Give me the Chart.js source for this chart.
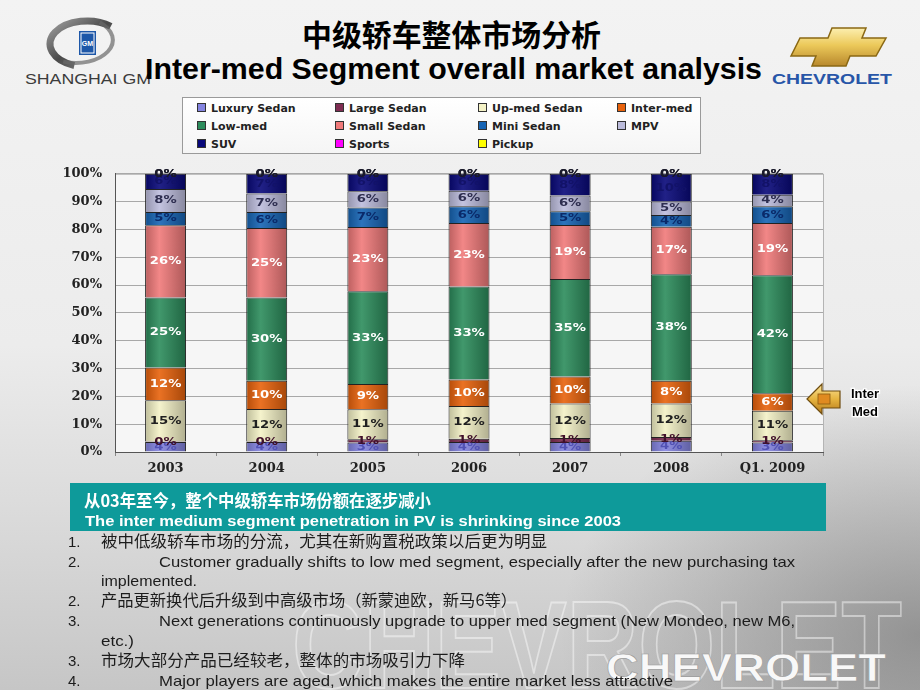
<!DOCTYPE html>
<html>
<head>
<meta charset="utf-8">
<title>Inter-med Segment overall market analysis</title>
<script src="https://cdn.jsdelivr.net/npm/chart.js@4.4.1/dist/chart.umd.min.js"></script>
<style>
  html, body { margin: 0; padding: 0; }
  body {
    width: 920px; height: 690px; overflow: hidden; position: relative;
    font-family: "Liberation Sans", Arial, sans-serif;
    background:
      radial-gradient(ellipse 360px 250px at 100% 92%, rgba(100,100,100,0.55), rgba(100,100,100,0) 100%),
      linear-gradient(180deg, #f3f3f3 0%, #ececec 50%, #d8d8d8 78%, #c6c6c6 100%);
  }
  .layer { position: absolute; left: 0; top: 0; }
  #chartBox { position: absolute; left: 40px; top: 153px; width: 800px; height: 329px; }
  #legend {
    position: absolute; left: 182px; top: 97px; width: 517px; height: 55px;
    background: linear-gradient(#ffffff, #f5f5f5); border: 1px solid #9a9a9a;
  }
  .li { position: absolute; font: bold 11px/14px "DejaVu Sans", sans-serif; color: #222; white-space: nowrap; }
  .li i { display: inline-block; width: 7px; height: 7px; border: 1px solid #333; margin-right: 5px; }
  #box { position: absolute; left: 70px; top: 483px; width: 756px; height: 48px; background: #0e9a9a; }
</style>
</head>
<body>

<!-- background watermark -->
<svg class="layer" width="920" height="690">
  <text x="292" y="688" font-family="Liberation Sans" font-weight="bold" font-size="125" fill="none"
        stroke="rgba(255,255,255,0.45)" stroke-width="2" textLength="610" lengthAdjust="spacingAndGlyphs">CHEVROLET</text>
  <text x="606" y="681" font-family="Liberation Sans" font-weight="bold" font-size="38" fill="#f8f8f8"
        stroke="#9a9a9a" stroke-width="0.6" textLength="280" lengthAdjust="spacingAndGlyphs">CHEVROLET</text>
</svg>

<!-- header -->
<svg class="layer" width="920" height="95">
  <defs>
    <linearGradient id="ring" x1="0" y1="0" x2="1" y2="1">
      <stop offset="0" stop-color="#a0a0a0"/><stop offset="0.5" stop-color="#4a4a4a"/><stop offset="1" stop-color="#909090"/>
    </linearGradient>
    <linearGradient id="gold" x1="0" y1="0" x2="0" y2="1">
      <stop offset="0" stop-color="#fcefb0"/><stop offset="0.45" stop-color="#ecc95a"/><stop offset="1" stop-color="#b8882c"/>
    </linearGradient>
  </defs>
  <path d="M 110.8 26.4 A 37 23 0 1 0 74.3 65.6" fill="none" stroke="url(#ring)" stroke-width="7"/>
  <path d="M 63.2 61.6 A 37 23 0 0 0 99.7 22.4" fill="none" stroke="#6a6a6a" stroke-width="4" opacity="0.7"/>
  <rect x="79" y="31" width="17" height="24" fill="#1d57a8"/>
  <rect x="81" y="33" width="13" height="20" fill="none" stroke="#ffffff" stroke-width="1"/>
  <text x="87.5" y="46" text-anchor="middle" font-family="Liberation Sans" font-weight="bold" font-size="7" fill="#fff">GM</text>
  <text x="25" y="84" font-family="Liberation Sans" font-size="14" fill="#3c3c3c" textLength="126" lengthAdjust="spacingAndGlyphs">SHANGHAI GM</text>

  <polygon points="800,38 828,38 832,28 866,28 862,38 886,38 876,56 850,56 846,66 812,66 816,56 791,56"
           fill="url(#gold)" stroke="#8a6814" stroke-width="1.5"/>
  <text x="772" y="84" font-family="Liberation Sans" font-weight="bold" font-size="15" fill="#2856a8" textLength="120" lengthAdjust="spacingAndGlyphs">CHEVROLET</text>

  <text x="302" y="46" font-family="Noto Sans CJK SC" font-weight="bold" font-size="30" fill="#000" textLength="299" lengthAdjust="spacingAndGlyphs">中级轿车整体市场分析</text>
  <text x="145" y="79" font-family="Liberation Sans" font-weight="bold" font-size="30" fill="#000" textLength="617" lengthAdjust="spacingAndGlyphs">Inter-med Segment overall market analysis</text>
</svg>

<div id="legend"></div>
<div id="chartBox"><canvas id="chart" width="800" height="329"></canvas></div>

<!-- Inter Med marker -->
<svg class="layer" width="920" height="690" style="pointer-events:none">
  <defs>
    <linearGradient id="gold2" x1="0" y1="0" x2="0" y2="1">
      <stop offset="0" stop-color="#fbe49a"/><stop offset="0.5" stop-color="#e6b440"/><stop offset="1" stop-color="#b57a1c"/>
    </linearGradient>
  </defs>
  <polygon points="807,399 822,384 822,391 840,391 840,408 822,408 822,414" fill="url(#gold2)" stroke="#6e4c10" stroke-width="1.2"/>
  <rect x="818" y="394" width="12" height="10" fill="#e08a20" stroke="#8a5a10" stroke-width="0.8"/>
  <g font-family="Liberation Sans" font-weight="bold" font-size="13" fill="#000" stroke="#fff" stroke-width="2.5" paint-order="stroke" text-anchor="middle">
    <text x="865" y="398">Inter</text>
    <text x="865" y="416">Med</text>
  </g>
</svg>

<div id="box"></div>
<svg class="layer" width="920" height="690">
  <g font-family="Noto Sans CJK SC" font-weight="bold" font-size="17" fill="#ffffff">
    <text x="84" y="507" textLength="347" lengthAdjust="spacingAndGlyphs">从03年至今，整个中级轿车市场份额在逐步减小</text>
  </g>
  <text x="85" y="525.5" font-family="Liberation Sans" font-weight="bold" font-size="15" fill="#ffffff" textLength="536" lengthAdjust="spacingAndGlyphs">The inter medium segment penetration in PV is shrinking since 2003</text>

  <g font-family="Liberation Sans" font-size="15" fill="#1c1c1c">
    <text x="68" y="546.5">1.</text>
    <text x="68" y="566.5">2.</text>
    <text x="68" y="605.5">2.</text>
    <text x="68" y="625.5">3.</text>
    <text x="68" y="665.5">3.</text>
    <text x="68" y="685.5">4.</text>
    <text x="159" y="566.5" textLength="636" lengthAdjust="spacingAndGlyphs">Customer gradually shifts to low med segment, especially after the new purchasing tax</text>
    <text x="101" y="585.5" textLength="96" lengthAdjust="spacingAndGlyphs">implemented.</text>
    <text x="159" y="625.5" textLength="636" lengthAdjust="spacingAndGlyphs">Next generations continuously upgrade to upper med segment (New Mondeo, new M6,</text>
    <text x="101" y="645.5" textLength="33" lengthAdjust="spacingAndGlyphs">etc.)</text>
    <text x="159" y="685.5" textLength="514" lengthAdjust="spacingAndGlyphs">Major players are aged, which makes the entire market  less attractive</text>
  </g>
  <g font-family="Noto Sans CJK SC" font-size="16" fill="#1c1c1c">
    <text x="101" y="547" textLength="446" lengthAdjust="spacingAndGlyphs">被中低级轿车市场的分流，尤其在新购置税政策以后更为明显</text>
    <text x="101" y="606" textLength="416" lengthAdjust="spacingAndGlyphs">产品更新换代后升级到中高级市场（新蒙迪欧，新马6等）</text>
    <text x="101" y="666" textLength="364" lengthAdjust="spacingAndGlyphs">市场大部分产品已经较老，整体的市场吸引力下降</text>
  </g>
</svg>

<script>
// share of segment in PV market, %
const years = ['2003', '2004', '2005', '2006', '2007', '2008', 'Q1. 2009'];
const luxurySedan = [3.6, 3.6, 3.4, 3.6, 3.6, 4.0, 3.4];
const largeSedan  = [0.2, 0.2, 1.2, 1.2, 1.4, 1.4, 0.8];
const upMedSedan  = [14.8, 11.7, 10.8, 11.7, 12.4, 12.0, 10.6];
const interMed    = [11.8, 10.1, 9.0, 9.6, 9.7, 8.2, 6.3];
const lowMed      = [25.1, 29.9, 33.4, 33.4, 35.1, 38.3, 42.4];
const smallSedan  = [26.0, 25.0, 23.1, 22.8, 19.4, 17.1, 18.8];
const miniSedan   = [4.8, 5.8, 7.0, 6.0, 4.9, 4.2, 6.0];
const mpv         = [8.2, 6.6, 5.8, 5.6, 5.7, 4.8, 4.2];
const suv         = [5.5, 7.1, 6.3, 6.1, 7.8, 10.0, 7.5];
const sports      = [0, 0, 0, 0, 0, 0, 0];
const pickup      = [0, 0, 0, 0, 0, 0, 0];

const segNames  = ['Luxury Sedan', 'Large Sedan', 'Up-med Sedan', 'Inter-med', 'Low-med', 'Small Sedan',
                   'Mini Sedan', 'MPV', 'SUV', 'Sports', 'Pickup'];
const segData   = [luxurySedan, largeSedan, upMedSedan, interMed, lowMed, smallSedan, miniSedan, mpv, suv, sports, pickup];
const segColors = ['#8484e0', '#7e2c52', '#f4f2c6', '#e8620c', '#2c8c5c', '#f07a7a',
                   '#1664b4', '#bcbcdc', '#08087a', '#ff00ff', '#ffff00'];
const labelColors = ['#5252b4', '#40102a', '#202020', '#ffffff', '#ffffff', '#ffffff',
                     '#0a2a6a', '#2e2e50', '#121268', '#1a1a2a', '#1a1a2a'];

function shade(hex, f) {
  const n = parseInt(hex.slice(1), 16);
  let r = n >> 16, g = (n >> 8) & 255, b = n & 255;
  const t = f < 0 ? 0 : 255, p = Math.abs(f);
  r = Math.round(r + (t - r) * p);
  g = Math.round(g + (t - g) * p);
  b = Math.round(b + (t - b) * p);
  return 'rgb(' + r + ',' + g + ',' + b + ')';
}

function barFill(base) {
  return function (c) {
    const chart = c.chart;
    const xs = chart.scales.x;
    if (c.type !== 'data' || !chart.chartArea || !xs) return base;
    const cx = xs.getPixelForValue(c.dataIndex);
    const half = xs.width / years.length * 0.405 / 2;
    const g = chart.ctx.createLinearGradient(cx - half, 0, cx + half, 0);
    g.addColorStop(0, shade(base, -0.22));
    g.addColorStop(0.35, shade(base, 0.1));
    g.addColorStop(1, shade(base, -0.28));
    return g;
  };
}

const plotBg = {
  id: 'plotBg',
  beforeDraw(chart) {
    const a = chart.chartArea, ctx = chart.ctx;
    ctx.save();
    ctx.fillStyle = '#f6f6f6';
    ctx.fillRect(a.left, a.top, a.right - a.left, a.bottom - a.top);
    ctx.strokeStyle = '#b4b4b4';
    ctx.lineWidth = 1;
    ctx.strokeRect(a.left + 0.5, a.top + 0.5, a.right - a.left, a.bottom - a.top);
    ctx.restore();
  }
};

const segLabels = {
  id: 'segLabels',
  afterDatasetsDraw(chart) {
    const ctx = chart.ctx;
    ctx.save();
    ctx.font = 'bold 11px "DejaVu Sans"';
    ctx.textAlign = 'center';
    ctx.textBaseline = 'middle';
    chart.data.datasets.forEach((ds, i) => {
      chart.getDatasetMeta(i).data.forEach((bar, j) => {
        const y = (bar.y + bar.base) / 2;
        ctx.fillStyle = labelColors[i];
        ctx.save();
        ctx.translate(bar.x, y);
        ctx.scale(1.2, 1);
        ctx.fillText(Math.round(ds.data[j]) + '%', 0, 0);
        ctx.restore();
      });
    });
    ctx.restore();
  }
};

const tickFont = { family: 'DejaVu Serif', size: 13, weight: 'bold' };

const chart = new Chart(document.getElementById('chart'), {
  type: 'bar',
  data: {
    labels: years,
    datasets: segNames.map((name, i) => ({
      label: name,
      data: segData[i],
      backgroundColor: barFill(segColors[i]),
      borderColor: '#222222',
      borderWidth: 1,
      barPercentage: 0.405,
      categoryPercentage: 1.0
    }))
  },
  options: {
    responsive: false,
    animation: false,
    devicePixelRatio: 1,
    layout: { padding: { top: 0, right: 17, left: 0, bottom: 0 } },
    plugins: { legend: { display: false }, tooltip: { enabled: false } },
    scales: {
      x: {
        stacked: true,
        grid: { offset: true, drawOnChartArea: false, drawTicks: true, tickLength: 4, color: '#888888' },
        border: { color: '#555555' },
        ticks: { font: tickFont, color: '#222222', padding: 5 },
        afterFit: s => { s.height = 30; }
      },
      y: {
        stacked: true,
        min: 0,
        max: 100,
        grid: { color: '#a8a8a8', drawTicks: false },
        border: { color: '#555555' },
        ticks: { stepSize: 10, font: tickFont, color: '#222222', padding: 13, callback: v => v + '%' },
        afterFit: s => { s.width = 75; }
      }
    }
  },
  plugins: [plotBg, segLabels]
});

// legend grid, 4 columns like the original Excel legend
const legendCols = [14, 152, 295, 434];
const legendRows = [4, 22, 40];
const legendBox = document.getElementById('legend');
chart.data.datasets.forEach((ds, i) => {
  const item = document.createElement('div');
  item.className = 'li';
  item.style.left = legendCols[i % 4] + 'px';
  item.style.top = legendRows[Math.floor(i / 4)] + 'px';
  item.innerHTML = '<i style="background:' + segColors[i] + '"></i>' + ds.label;
  legendBox.appendChild(item);
});
</script>
</body>
</html>
